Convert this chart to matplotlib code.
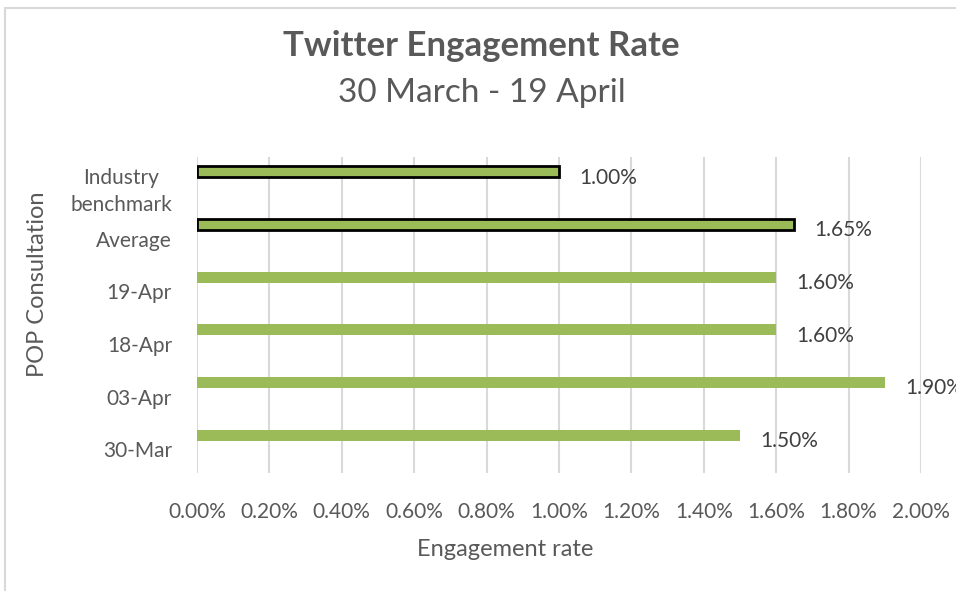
import matplotlib.pyplot as plt
import matplotlib.patches as patches
import numpy as np

categories = ["30-Mar", "03-Apr", "18-Apr", "19-Apr", "Average", "Industry\nbenchmark"]
rates = [1.50, 1.90, 1.60, 1.60, 1.65, 1.00]
edged = [False, False, False, False, True, True]
x_ticks = [0.0, 0.2, 0.4, 0.6, 0.8, 1.0, 1.2, 1.4, 1.6, 1.8, 2.0]

GREEN = "#9BBB59"
GRID = "#D9D9D9"
TXT = "#595959"

plt.rcParams["font.family"] = ["Lato", "DejaVu Sans"]

fig = plt.figure(figsize=(9.56, 5.91), dpi=100)
ax = fig.add_axes([197 / 956, 1 - 473 / 591, (921 - 197) / 956, (473 - 157) / 591])

# chart border (cropped on right and bottom)
fig.patches.append(patches.Rectangle((5 / 956, -0.1), 1.2, 1 - 8 / 591 + 0.1,
                                     transform=fig.transFigure, fill=False,
                                     edgecolor=GRID, linewidth=1.5))

y = np.arange(len(categories))
offset = 0.22
for i, (v, e) in enumerate(zip(rates, edged)):
    ax.barh(y[i] + offset, v, height=0.21, color=GREEN,
            edgecolor="black" if e else "none", linewidth=2 if e else 0, zorder=3)
    ax.annotate(f"{v:.2f}%", (v, y[i] + offset), xytext=(20, -6),
                textcoords="offset pixels", ha="left", va="center",
                fontsize=15, color="#404040", annotation_clip=False)

ax.set_xlim(0, 2.0)
ax.set_ylim(-0.5, len(categories) - 0.5)
ax.set_xticks(x_ticks)
ax.set_xticklabels([f"{t:.2f}%" for t in x_ticks])
ax.set_yticks(y - 0.05)
ax.set_yticklabels(categories, multialignment="center", linespacing=1.45)
ax.tick_params(axis="both", length=0, labelsize=15, labelcolor=TXT)
ax.tick_params(axis="x", pad=21)
ax.tick_params(axis="y", pad=18)
ax.xaxis.grid(True, color=GRID, linewidth=1.5, zorder=0)
ax.set_axisbelow(True)
for s in ax.spines.values():
    s.set_visible(False)

ax.set_xlabel("Engagement rate", fontsize=17, color=TXT)
ax.xaxis.set_label_coords((505 - 197) / 724, -(549 - 473) / 316)
ax.set_ylabel("POP Consultation", fontsize=17, color=TXT)
ax.yaxis.set_label_coords(-(197 - 38) / 724, (473 - 284) / 316)
ax.xaxis.label.set_va("center")
ax.yaxis.label.set_va("center")

fig.text(0.503, 1 - 46 / 591, "Twitter Engagement Rate", ha="center", va="center",
         fontsize=25, fontweight="bold", color=TXT)
fig.text(0.504, 1 - 93 / 591, "30 March - 19 April", ha="center", va="center",
         fontsize=24, color=TXT)

fig.savefig("out.png", dpi=100)
